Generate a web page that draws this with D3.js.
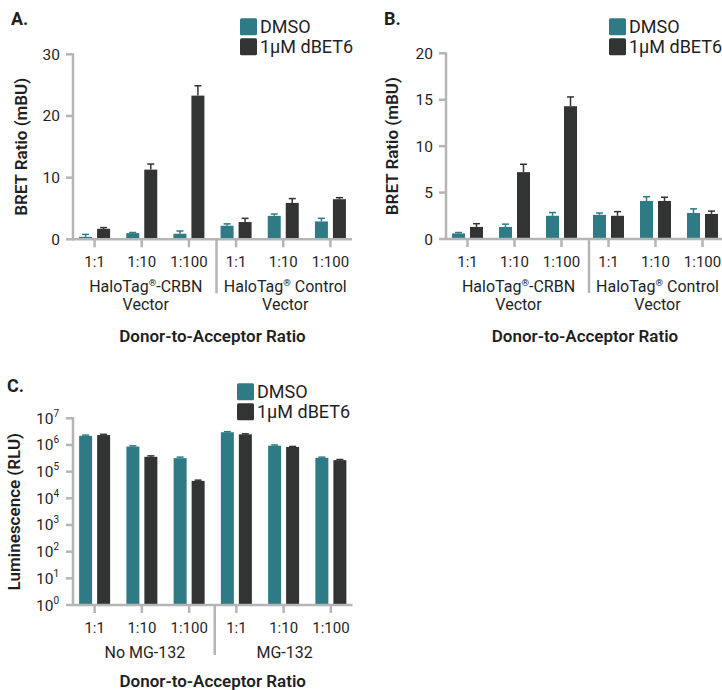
<!DOCTYPE html>
<html>
<head>
<meta charset="utf-8">
<script src="https://cdn.jsdelivr.net/npm/d3@7"></script>
<style>
  body { margin: 0; background: #fff; }
  svg { display: block; font-family: Roboto, "Noto Sans", sans-serif; }
</style>
</head>
<body>
<div id="chart"></div>
<script>
// Data
const ratios = ["1:1", "1:10", "1:100"];
const seriesNames = ["DMSO", "1µM dBET6"];
const groupsAB = [["HaloTag®-CRBN", "Vector"], ["HaloTag® Control", "Vector"]];
const groupsC = [["No MG-132"], ["MG-132"]];

// Panel A (BRET, mBU)
const aDmso    = [0.4, 1.0, 0.9, 2.2, 3.8, 2.9];
const aDmsoErr = [0.4, 0.1, 0.45, 0.3, 0.3, 0.5];
const aDbet    = [1.7, 11.3, 23.3, 2.8, 5.9, 6.5];
const aDbetErr = [0.2, 0.9, 1.6, 0.6, 0.7, 0.25];
const aTicks   = [0, 10, 20, 30];

// Panel B (BRET, mBU)
const bDmso    = [0.6, 1.3, 2.5, 2.6, 4.1, 2.8];
const bDmsoErr = [0.1, 0.3, 0.35, 0.2, 0.45, 0.45];
const bDbet    = [1.3, 7.2, 14.3, 2.5, 4.1, 2.7];
const bDbetErr = [0.35, 0.85, 1.0, 0.45, 0.4, 0.3];
const bTicks   = [0, 5, 10, 15, 20];

// Panel C (luminescence, RLU)
const cDmso    = [2.2e6, 8.7e5, 3.2e5, 3.0e6, 9.4e5, 3.3e5];
const cDmsoErr = [1.5e5, 6e4, 3e4, 1.5e5, 6e4, 2e4];
const cDbet    = [2.35e6, 3.6e5, 4.5e4, 2.5e6, 8.4e5, 2.7e5];
const cDbetErr = [1.5e5, 3e4, 3e3, 1.2e5, 4e4, 1.5e4];
const cTicks   = [1, 10, 100, 1e3, 1e4, 1e5, 1e6, 1e7];

const teal = "#2e7b86";
const dark = "#323333";
const axisGrey = "#b5b5b5";
const textCol = "#1f1f1f";

const svg = d3.select("#chart").append("svg")
  .attr("width", 722)
  .attr("height", 690);

// write text, raising any "®" as superscript
function richText(sel, str, size) {
  const parts = str.split("®");
  parts.forEach((p, i) => {
    if (i > 0) {
      sel.append("tspan").attr("font-size", size * 0.6).attr("dy", -size * 0.38).text("®");
      sel.append("tspan").attr("dy", size * 0.38).text(p);
    } else {
      sel.append("tspan").text(p);
    }
  });
}

function drawPanel(o) {
  const cats = [];
  o.groups.forEach((g, gi) => ratios.forEach(r => cats.push(gi + "|" + r)));

  const x = d3.scaleBand().domain(cats).range([o.left - 2, o.right + 2]).padding(0);
  const inner = d3.scaleBand().domain(seriesNames).range([-15.5, 15.5]).paddingInner(5 / 18);

  const y = o.log
    ? d3.scaleLog().domain([1, 1e7]).range([o.bottom, o.top])
    : d3.scaleLinear().domain([0, d3.max(o.ticks)]).range([o.bottom, o.top]);

  const g = svg.append("g");

  // panel letter
  g.append("text")
    .attr("x", o.letterX).attr("y", o.letterY)
    .attr("font-size", 18).attr("font-weight", 700).attr("fill", textCol)
    .text(o.letter);

  // bars + error bars
  const sets = [
    { name: seriesNames[0], vals: o.dmso, errs: o.dmsoErr, color: teal },
    { name: seriesNames[1], vals: o.dbet, errs: o.dbetErr, color: dark }
  ];
  sets.forEach(s => {
    const data = cats.map((c, i) => ({ c, v: s.vals[i], e: s.errs[i] }));
    const bx = d => x(d.c) + x.bandwidth() / 2 + inner(s.name);
    const cx = d => bx(d) + inner.bandwidth() / 2;

    g.selectAll(null).data(data).enter().append("line")
      .attr("x1", cx).attr("x2", cx)
      .attr("y1", d => y(d.v)).attr("y2", d => y(d.v + d.e))
      .attr("stroke", s.color).attr("stroke-width", 1.5);
    g.selectAll(null).data(data).enter().append("line")
      .attr("x1", d => cx(d) - 3.5).attr("x2", d => cx(d) + 3.5)
      .attr("y1", d => y(d.v + d.e)).attr("y2", d => y(d.v + d.e))
      .attr("stroke", s.color).attr("stroke-width", 1.5);

    g.selectAll(null).data(data).enter().append("rect")
      .attr("x", bx)
      .attr("width", inner.bandwidth())
      .attr("y", d => y(d.v))
      .attr("height", d => y(o.log ? 1 : 0) - y(d.v))
      .attr("fill", s.color);
  });

  // y axis
  const yAxis = g.append("g").attr("transform", `translate(${o.left},0)`);
  yAxis.append("line")
    .attr("x1", 0).attr("x2", 0).attr("y1", o.top - 1).attr("y2", o.bottom + 1)
    .attr("stroke", axisGrey).attr("stroke-width", 2.5);
  const yt = yAxis.selectAll(".yt").data(o.ticks).enter().append("g")
    .attr("transform", d => `translate(0,${y(d)})`);
  yt.append("line").attr("x1", -7).attr("x2", 0).attr("stroke", axisGrey).attr("stroke-width", 2.5);
  if (o.log) {
    const t = yt.append("text").attr("x", -14).attr("y", 5.5)
      .attr("text-anchor", "end").attr("font-size", 15.5).attr("fill", textCol);
    t.append("tspan").text("10");
    t.append("tspan").attr("font-size", 10).attr("dy", -7).text(d => Math.round(Math.log10(d)));
  } else {
    yt.append("text").attr("x", -13).attr("y", 5.5)
      .attr("text-anchor", "end").attr("font-size", 15.5).attr("fill", textCol)
      .text(d => d);
  }

  // x axis
  g.append("line")
    .attr("x1", o.left - 1).attr("x2", o.right).attr("y1", o.bottom).attr("y2", o.bottom)
    .attr("stroke", axisGrey).attr("stroke-width", 2.5);
  const xt = g.selectAll(".xt").data(cats).enter().append("g")
    .attr("transform", d => `translate(${x(d) + x.bandwidth() / 2},${o.bottom})`);
  xt.append("line").attr("y1", 0).attr("y2", 8).attr("stroke", axisGrey).attr("stroke-width", 2.5);
  xt.append("text").attr("y", 28).attr("text-anchor", "middle")
    .attr("font-size", 15).attr("fill", textCol)
    .text(d => d.split("|")[1]);

  // group separator and group labels
  const sepX = x(cats[2]) + x.step() + o.sepShift;
  g.append("line")
    .attr("x1", sepX).attr("x2", sepX).attr("y1", o.bottom).attr("y2", o.bottom + o.sepLen)
    .attr("stroke", axisGrey).attr("stroke-width", 2.5);
  const regions = [[o.left, sepX], [sepX, o.right]];
  o.groups.forEach((lines, gi) => {
    const mid = (regions[gi][0] + regions[gi][1]) / 2 + 1;
    lines.forEach((ln, li) => {
      const t = g.append("text").attr("x", mid).attr("y", o.bottom + 53 + li * 18)
        .attr("text-anchor", "middle").attr("font-size", 16).attr("fill", textCol);
      richText(t, ln, 16);
    });
  });

  // axis titles
  g.append("text")
    .attr("x", (o.left + o.right) / 2).attr("y", o.bottom + o.titleDy)
    .attr("text-anchor", "middle").attr("font-size", 17).attr("font-weight", 600)
    .attr("fill", textCol).text("Donor-to-Acceptor Ratio");
  g.append("text")
    .attr("transform", `translate(${o.left - o.yTitleDx},${(o.top + o.bottom) / 2}) rotate(-90)`)
    .attr("text-anchor", "middle").attr("font-size", 17).attr("font-weight", 600)
    .attr("fill", textCol).text(o.yTitle);

  // legend
  const lg = g.append("g").attr("transform", `translate(${o.left + o.legendDx},${o.top + o.legendDy})`);
  [teal, dark].forEach((c, i) => {
    lg.append("rect").attr("x", 0).attr("y", i * 20).attr("width", 17).attr("height", 17)
      .attr("rx", 1.5).attr("fill", c);
    lg.append("text").attr("x", 20).attr("y", i * 20 + 15)
      .attr("font-size", 18).attr("fill", textCol).text(seriesNames[i]);
  });
}

drawPanel({
  letter: "A.", letterX: 11, letterY: 25,
  left: 73, right: 352, top: 54.3, bottom: 239.3,
  ticks: aTicks, dmso: aDmso, dmsoErr: aDmsoErr, dbet: aDbet, dbetErr: aDbetErr,
  groups: groupsAB, sepShift: 4, sepLen: 54, titleDy: 103,
  yTitle: "BRET Ratio (mBU)", yTitleDx: 46, legendDx: 167, legendDy: -36
});

drawPanel({
  letter: "B.", letterX: 384, letterY: 25,
  left: 446, right: 724, top: 53.3, bottom: 239,
  ticks: bTicks, dmso: bDmso, dmsoErr: bDmsoErr, dbet: bDbet, dbetErr: bDbetErr,
  groups: groupsAB, sepShift: 4, sepLen: 54, titleDy: 103,
  yTitle: "BRET Ratio (mBU)", yTitleDx: 48, legendDx: 163, legendDy: -35
});

drawPanel({
  letter: "C.", letterX: 7, letterY: 392,
  left: 73, right: 352.5, top: 418.3, bottom: 605, log: true,
  ticks: cTicks, dmso: cDmso, dmsoErr: cDmsoErr, dbet: cDbet, dbetErr: cDbetErr,
  groups: groupsC, sepShift: 2, sepLen: 50, titleDy: 82,
  yTitle: "Luminescence (RLU)", yTitleDx: 53, legendDx: 164, legendDy: -35
});
</script>
</body>
</html>
